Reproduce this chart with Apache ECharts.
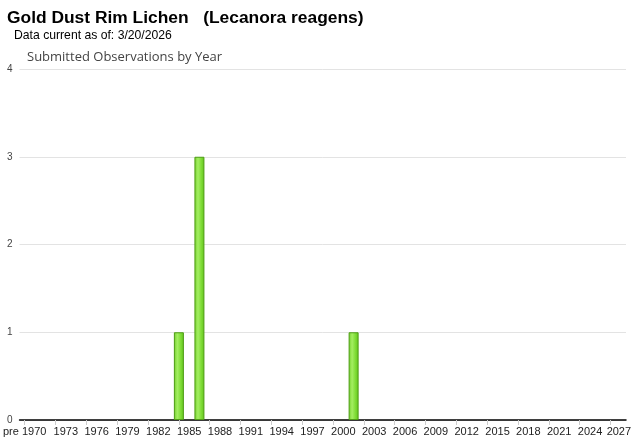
<!DOCTYPE html>
<html>
<head>
<meta charset="utf-8">
<script src="https://cdn.jsdelivr.net/npm/echarts@6/dist/echarts.min.js"></script>
<style>
html,body{margin:0;padding:0;background:#fff;}
#chart{width:640px;height:442px;}
</style>
</head>
<body>
<div id="chart"></div>
<script>
const titleText = "Gold Dust Rim Lichen   (Lecanora reagens)";
const subText = "Data current as of: 3/20/2026";
const chartTitle = "Submitted Observations by Year";
const years = ["pre 1970"];
for (let y = 1970; y <= 2027; y++) years.push(String(y));
const obsYears = ["1984", "1986", "2001"];
const obsCounts = [1, 3, 1];
const values = years.map(function (c) { const k = obsYears.indexOf(c); return k >= 0 ? obsCounts[k] : null; });
const yTicks = [0, 1, 2, 3, 4];

const chart = echarts.init(document.getElementById('chart'), null, {renderer: 'canvas'});
chart.setOption({
  animation: false,
  title: [
    {text: titleText, left: 2, top: 5, textStyle: {fontFamily: 'Liberation Sans, Arial', fontWeight: 'bold', fontSize: 17.4, color: '#000'}},
    {text: subText, left: 9, top: 25, textStyle: {fontFamily: 'Liberation Sans, Arial', fontWeight: 'normal', fontSize: 12.2, color: '#000'}},
    {text: chartTitle, left: 22, top: 46, textStyle: {fontFamily: 'Open Sans, Arial', fontWeight: 'normal', fontSize: 13, color: '#444'}}
  ],
  grid: {left: 18, right: 14, top: 69, bottom: 22, containLabel: false},
  xAxis: {
    type: 'category',
    data: years,
    axisLine: {lineStyle: {color: '#000', width: 1.5}},
    axisTick: {show: true, alignWithLabel: true, length: 5, inside: false, lineStyle: {color: '#ccc'},
      interval: function (i) { return i % 3 === 0; }},
    axisLabel: {
      interval: function (i) { return i === 0 || (i > 1 && (i - 1) % 3 === 0); },
      fontFamily: 'Liberation Sans, Arial', fontSize: 11, color: '#222', margin: 6,
      formatter: function (v, i) { return i === years.length - 1 ? '{last|' + v + '}' : v; },
      rich: {last: {fontFamily: 'Liberation Sans, Arial', fontSize: 11, color: '#222', padding: [0, 4, 0, 0]}}
    }
  },
  yAxis: {
    type: 'value', min: 0, max: 4, interval: 1,
    axisLine: {show: false}, axisTick: {show: false},
    splitLine: {lineStyle: {color: '#e3e3e3'}},
    axisLabel: {fontFamily: 'Liberation Sans, Arial', fontSize: 10, color: '#444', margin: 7,
      formatter: function (v) { return yTicks.indexOf(v) >= 0 ? String(v) : ''; }}
  },
  series: [{
    type: 'bar',
    data: values,
    barWidth: 10,
    itemStyle: {
      borderColor: '#4e9d14', borderWidth: 1,
      color: new echarts.graphic.LinearGradient(0, 0, 1, 0, [
        {offset: 0, color: '#72cf2a'},
        {offset: 0.35, color: '#a4ee62'},
        {offset: 0.7, color: '#7ddb34'},
        {offset: 1, color: '#62c21e'}
      ])
    }
  }]
});
</script>
</body>
</html>
